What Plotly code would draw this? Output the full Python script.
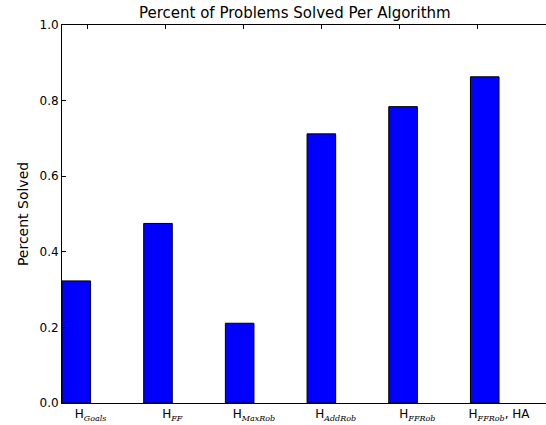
import plotly.graph_objects as go

categories = ["Goals", "FF", "MaxRob", "AddRob", "FFRob", "FFRob"]
suffixes = ["", "", "", "", "", ", HA"]
values = [0.323, 0.475, 0.211, 0.712, 0.784, 0.863]
positions = [0, 1, 2, 3, 4, 5]
bar_width = 0.35
top_ticks = [0.31, 1.27, 2.22, 3.18, 4.13, 5.09]

ticktext = [
    "<span style=\"font-family:DejaVu Sans\">H</span><sub><span style=\"font-family:DejaVu Serif;font-style:italic;font-size:8px\">%s</span></sub><span style=\"font-family:DejaVu Sans\">%s</span>" % (c, s)
    for c, s in zip(categories, suffixes)
]
tickvals = [p + bar_width for p in positions]

fig = go.Figure()
fig.add_trace(go.Bar(
    x=positions, y=values, width=bar_width, offset=0,
    marker=dict(color="#0000ff", line=dict(color="black", width=1)),
))
fig.add_trace(go.Scatter(x=[0], y=[0], xaxis="x2", mode="markers",
                         marker=dict(opacity=0), showlegend=False, hoverinfo="skip"))

fig.update_layout(
    width=546, height=425,
    margin=dict(l=62, r=0, t=25, b=22),
    paper_bgcolor="white", plot_bgcolor="white",
    font=dict(family="DejaVu Sans", size=12, color="black"),
    showlegend=False,
    title=dict(text="Percent of Problems Solved Per Algorithm", x=0.54, xanchor="center",
               y=0.983, yanchor="top", font=dict(size=15)),
    xaxis=dict(range=[0, 5.925], tickvals=tickvals, ticktext=ticktext, automargin=False,
               showgrid=False, zeroline=False, showline=True, linecolor="black", linewidth=1,
               ticks="", ticklen=0, mirror=False, tickfont=dict(size=12, family="DejaVu Sans")),
    xaxis2=dict(range=[0, 5.925], overlaying="x", side="top", tickvals=top_ticks, automargin=False,
                showticklabels=False, ticks="inside", ticklen=4, tickcolor="black",
                showgrid=False, zeroline=False, showline=True, linecolor="black", linewidth=1),
    yaxis=dict(range=[0, 1], tickvals=[0, 0.2, 0.4, 0.6, 0.8, 1.0], automargin=False,
               ticktext=["0.0", "0.2", "0.4", "0.6", "0.8", "1.0"],
               ticks="inside", ticklen=4, tickcolor="black",
               showgrid=False, zeroline=False, showline=True, linecolor="black", linewidth=1,
               title=dict(text="Percent Solved", standoff=7)),
)

fig.write_html("out.html", config={"displayModeBar": False},
               post_script="document.body.style.margin='0';document.body.style.overflow='hidden';")
